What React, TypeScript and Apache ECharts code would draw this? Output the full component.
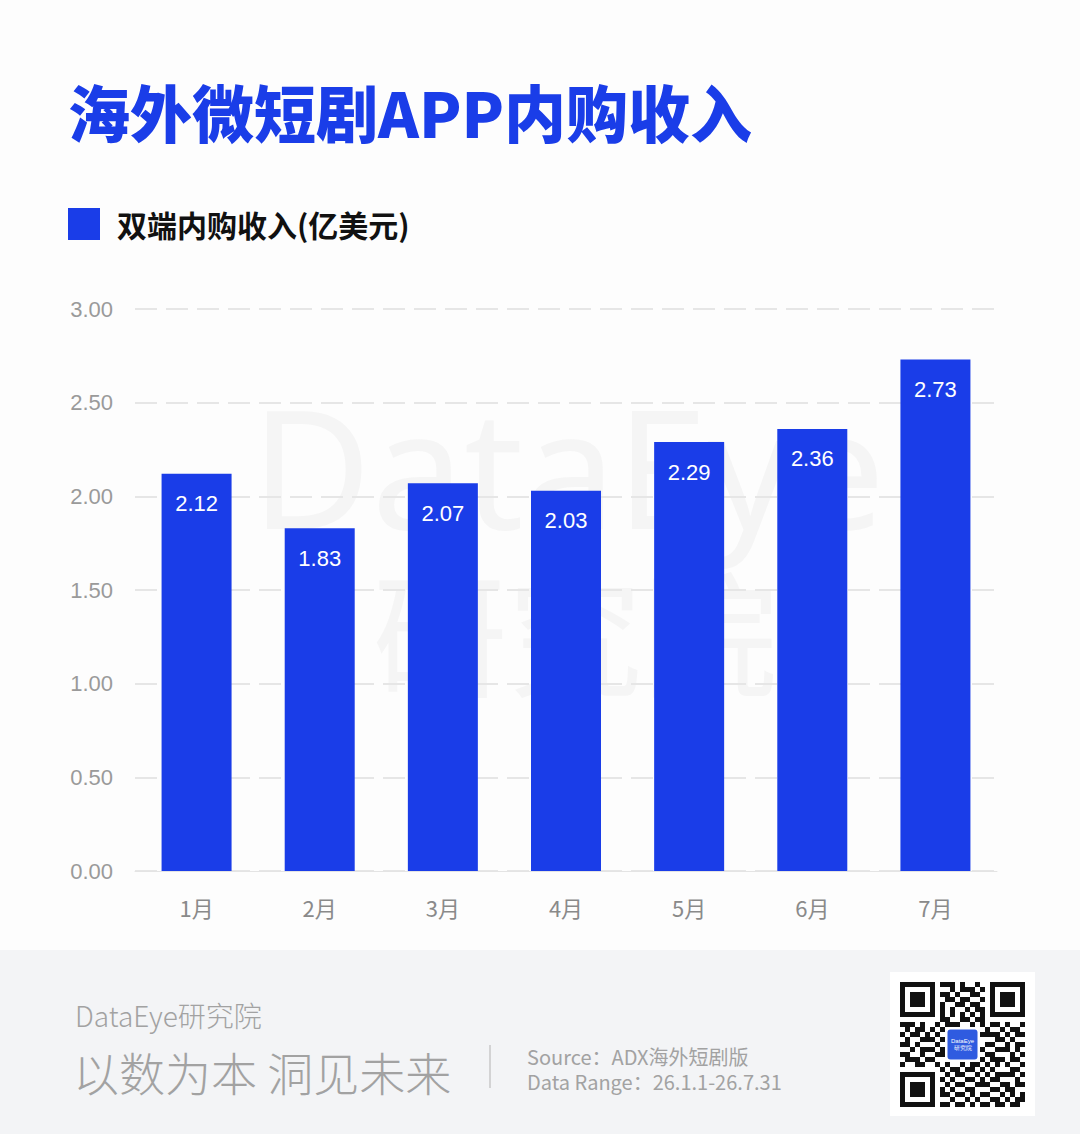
import React, { useEffect, useRef } from "react";
import * as echarts from "echarts";

const months = ["1月", "2月", "3月", "4月", "5月", "6月", "7月"];
const revenue = [2.12, 1.83, 2.07, 2.03, 2.29, 2.36, 2.73];
const yTicks = { min: 0, max: 3, interval: 0.5 };
const seriesName = "双端内购收入(亿美元)";
const titleText = "海外微短剧APP内购收入";
const brand = "DataEye研究院";
const slogan = "以数为本 洞见未来";
const sourceLine = "Source：ADX海外短剧版";
const rangeLine = "Data Range：26.1.1-26.7.31";

const qrRows = [
  "1011010011101001011010110",
  "0110101100101110100101001",
  "1101001011010011011100110",
  "0010110101101100101011011",
  "1100101010011011010110100",
  "0111010110100101101001011",
  "1010101010101010101010101",
  "0001011011001101100010110",
  "1110100101110010101101001",
  "0101101010011101010010110",
  "1011010101100010111101011",
  "0100111010011101000110100",
  "1101000101101011011001011",
  "0010111010010100100111010",
  "1100100111101011011000101",
  "0111011000110100101110110",
  "1001100101001011010101001",
  "0110011010110110101000110",
  "1011100101011001010111101",
  "0100011010100110101100010",
  "1101101001011001110011011",
  "0010010110100110001101100",
  "1101101011011010110010101",
  "0110110100100101001101011",
  "1001001011011010110110110",
];

const BLUE = "#1a3de8";

function buildQr(x0: number, y0: number, m: number) {
  const els: any[] = [];
  const n = 25;
  const finder = (r: number, c: number): number | null => {
    const zones = [
      [0, 0],
      [0, n - 7],
      [n - 7, 0],
    ];
    for (const [zr, zc] of zones) {
      if (r >= zr - 1 && r <= zr + 7 && c >= zc - 1 && c <= zc + 7) {
        const lr = r - zr;
        const lc = c - zc;
        if (lr < 0 || lr > 6 || lc < 0 || lc > 6) return 0;
        const d = Math.max(Math.abs(lr - 3), Math.abs(lc - 3));
        return d === 3 || d <= 1 ? 1 : 0;
      }
    }
    return null;
  };
  for (let r = 0; r < n; r++) {
    const row = qrRows[r].padEnd(n, "0");
    for (let c = 0; c < n; c++) {
      if (r >= 9 && r <= 15 && c >= 9 && c <= 15) continue;
      const f = finder(r, c);
      const on = f === null ? row[c] === "1" : f === 1;
      if (on) {
        els.push({
          type: "rect",
          shape: { x: x0 + c * m, y: y0 + r * m, width: m, height: m },
          style: { fill: "#111" },
          silent: true,
        });
      }
    }
  }
  return els;
}

export default function App() {
  const ref = useRef<HTMLDivElement>(null);
  useEffect(() => {
    document.body.style.margin = "0";
    const chart = echarts.init(ref.current!, undefined, { renderer: "svg" });
    const qrX = 900;
    const qrY = 982;
    const mod = 5;
    chart.setOption({
      animation: false,
      backgroundColor: "#fdfdfd",
      textStyle: { fontFamily: "Liberation Sans, Arial, sans-serif" },
      grid: { left: 135, right: 83, top: 309, bottom: 263 },
      legend: {
        data: [seriesName],
        left: 68,
        top: 208,
        padding: 0,
        icon: "rect",
        itemWidth: 32,
        itemHeight: 32,
        textStyle: {
          fontSize: 30,
          fontWeight: "bold",
          color: "#111",
          fontFamily: "Noto Sans CJK SC",
          padding: [8, 0, 0, 12],
        },
      },
      xAxis: {
        type: "category",
        data: months,
        axisLine: { lineStyle: { color: "#e4e4e4", width: 1 } },
        axisTick: { show: false },
        axisLabel: {
          fontSize: 22,
          color: "#8a8a8a",
          margin: 25,
          fontFamily: "Noto Sans CJK SC",
        },
      },
      yAxis: {
        type: "value",
        min: yTicks.min,
        max: yTicks.max,
        interval: yTicks.interval,
        axisLine: { show: false },
        axisTick: { show: false },
        axisLabel: {
          fontSize: 22,
          color: "#9a9a9a",
          margin: 22,
          formatter: (v: number) => v.toFixed(2),
        },
        splitLine: {
          lineStyle: { color: "#e6e6e6", type: [22, 9], width: 2 },
        },
      },
      series: [
        {
          name: seriesName,
          type: "bar",
          data: revenue,
          barWidth: 70,
          itemStyle: { color: BLUE },
          label: {
            show: true,
            position: "insideTop",
            distance: 19,
            color: "#fff",
            fontSize: 22,
            formatter: (p: any) => p.value.toFixed(2),
          },
        },
      ],
      graphic: [
        {
          type: "text",
          left: 68,
          top: 80,
          style: {
            text: titleText,
            fontSize: 62,
            fontWeight: 900,
            fill: BLUE,
            fontFamily: "Noto Sans CJK SC",
          },
        },
        {
          type: "text",
          x: 568,
          y: 465,
          z: -10,
          silent: true,
          style: {
            text: "DataEye",
            fontSize: 165,
            fontWeight: "normal",
            fill: "#f5f5f5",
            align: "center",
            verticalAlign: "middle",
            fontFamily: "Noto Sans, sans-serif",
          },
        },
        {
          type: "text",
          x: 575,
          y: 628,
          z: -10,
          silent: true,
          style: {
            text: "研究院",
            fontSize: 135,
            fontWeight: "normal",
            fill: "#f5f5f5",
            align: "center",
            verticalAlign: "middle",
            fontFamily: "Noto Sans CJK SC",
          },
        },
        {
          type: "rect",
          shape: { x: 0, y: 950, width: 1080, height: 184 },
          style: { fill: "#f3f4f6" },
          silent: true,
        },
        {
          type: "text",
          x: 75,
          y: 1015,
          style: {
            text: brand,
            fontSize: 28,
            fontWeight: 300,
            fill: "#a2a2a2",
            verticalAlign: "middle",
            fontFamily: "Noto Sans CJK SC",
          },
        },
        {
          type: "text",
          x: 73,
          y: 1071,
          style: {
            text: slogan,
            fontSize: 46,
            fontWeight: 300,
            fill: "#a2a2a2",
            verticalAlign: "middle",
            fontFamily: "Noto Sans CJK SC",
          },
        },
        {
          type: "line",
          shape: { x1: 490, y1: 1045, x2: 490, y2: 1088 },
          style: { stroke: "#c8c8c8", lineWidth: 1.5 },
        },
        {
          type: "text",
          x: 527,
          y: 1056,
          style: {
            text: sourceLine,
            fontSize: 20,
            fill: "#a2a2a2",
            verticalAlign: "middle",
            fontFamily: "Noto Sans CJK SC",
          },
        },
        {
          type: "text",
          x: 527,
          y: 1081,
          style: {
            text: rangeLine,
            fontSize: 20,
            fill: "#a2a2a2",
            verticalAlign: "middle",
            fontFamily: "Noto Sans CJK SC",
          },
        },
        {
          type: "rect",
          shape: { x: 890, y: 972, width: 145, height: 144 },
          style: { fill: "#ffffff" },
        },
        ...buildQr(qrX, qrY, mod),
        {
          type: "rect",
          shape: { x: qrX + 9.5 * mod, y: qrY + 9.5 * mod, width: 6 * mod, height: 6 * mod, r: 3 },
          style: { fill: "#2f5be0" },
        },
        {
          type: "text",
          x: qrX + 12.5 * mod,
          y: qrY + 12.5 * mod,
          style: {
            text: "DataEye\n研究院",
            fontSize: 6,
            lineHeight: 7,
            fill: "#fff",
            align: "center",
            verticalAlign: "middle",
          },
        },
      ],
    });
    return () => chart.dispose();
  }, []);
  return (
    <div
      ref={ref}
      style={{ position: "absolute", left: 0, top: 0, width: 1080, height: 1134 }}
    />
  );
}
